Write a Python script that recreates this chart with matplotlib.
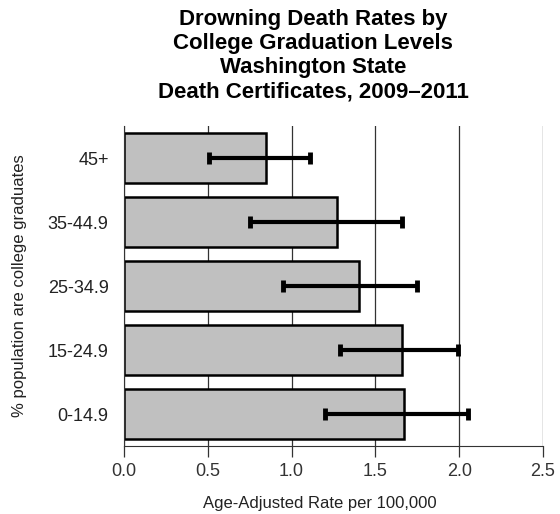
import numpy as np
import matplotlib.pyplot as plt

plt.rcParams['font.family'] = ['Liberation Sans', 'DejaVu Sans']

categories = ['45+', '35-44.9', '25-34.9', '15-24.9', '0-14.9']
rates = [0.85, 1.27, 1.40, 1.66, 1.67]
ci_low = [0.51, 0.75, 0.95, 1.29, 1.20]
ci_high = [1.11, 1.66, 1.75, 1.99, 2.05]
xticks = [0.0, 0.5, 1.0, 1.5, 2.0, 2.5]

fig = plt.figure(figsize=(5.6, 5.14), dpi=100)
ax = fig.add_axes([0.2214, 0.1323, 0.7482, 0.6225])

y = np.arange(len(categories))
rates = np.array(rates)
err = [rates - np.array(ci_low), np.array(ci_high) - rates]

ax.set_axisbelow(True)
ax.xaxis.grid(True, color='#333333', linewidth=0.9)
ax.barh(y, rates, height=0.78, color='#c0c0c0', edgecolor='black', linewidth=1.8, zorder=2)
ax.errorbar(rates, y, xerr=err, fmt='none', ecolor='black', elinewidth=3,
            capsize=4.5, capthick=3.5, zorder=3)

ax.set_xlim(0, 2.5)
ax.set_ylim(4.5, -0.5)
ax.set_xticks(xticks)
ax.set_xticklabels(['%.1f' % v for v in xticks])
ax.set_yticks(y)
ax.set_yticklabels(categories)

for s in ['top', 'right']:
    ax.spines[s].set_visible(False)
ax.spines['left'].set_color('#333333')
ax.spines['bottom'].set_color('#333333')
ax.tick_params(axis='y', length=0, pad=11, labelsize=13, labelcolor='#222222')
ax.tick_params(axis='x', length=8, width=0.9, color='#333333', pad=4, labelsize=13, labelcolor='#333333')

ax.set_xlabel('Age-Adjusted Rate per 100,000', fontsize=12, labelpad=12, color='#222222')
ax.xaxis.label.set_x(0.468)
ax.set_ylabel('% population are college graduates', fontsize=12, labelpad=15, color='#222222')

fig.text(0.559, 0.983, 'Drowning Death Rates by\nCollege Graduation Levels\nWashington State\nDeath Certificates, 2009\u20132011',
         ha='center', va='top', fontsize=16, fontweight='bold', linespacing=1.2)

fig.savefig('out.png', dpi=100)
